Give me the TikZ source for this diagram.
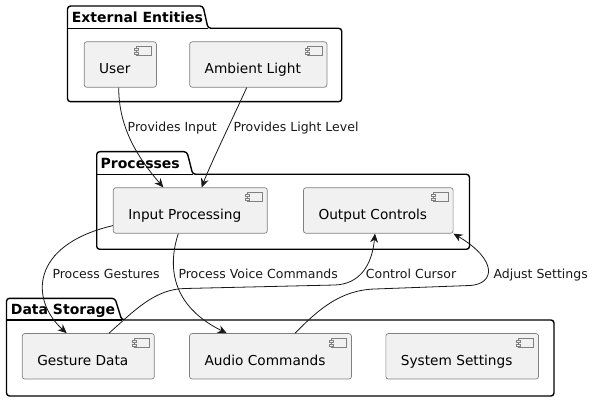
\documentclass[tikz,border=0pt]{standalone}
\usepackage{fontspec}
\setmainfont{DejaVu Sans}
\usetikzlibrary{arrows.meta,calc}
\definecolor{compfill}{HTML}{F1F1F1}
\definecolor{compline}{HTML}{808080}
\definecolor{ink}{HTML}{181818}
\newcommand{\compname}[1]{#1\hspace*{11pt}}
\tikzset{
  comp/.style={draw=compline,line width=0.7pt,fill=compfill,rounded corners=2.5pt,
    font=\fontsize{13.7}{16}\selectfont,inner xsep=15pt,inner ysep=0pt,
    text height=32pt,text depth=13.5pt,
    path picture={
      \draw[compline,line width=0.6pt,sharp corners]
        ([xshift=-20pt,yshift=-5pt]path picture bounding box.north east) rectangle ++(15pt,-9pt);
      \draw[compline,line width=0.6pt,sharp corners,fill=compfill]
        ([xshift=-22pt,yshift=-7pt]path picture bounding box.north east) rectangle ++(4pt,-2pt);
      \draw[compline,line width=0.6pt,sharp corners,fill=compfill]
        ([xshift=-22pt,yshift=-11pt]path picture bounding box.north east) rectangle ++(4pt,-2pt);
    }},
  pkg/.style={draw=black,line width=1.4pt,rounded corners=3pt},
  pkgtitle/.style={font=\bfseries\fontsize{14}{16}\selectfont,inner sep=0pt,anchor=base west},
  lbl/.style={font=\fontsize{12.5}{14}\selectfont,inner sep=0pt,anchor=base west,text=ink},
  link/.style={draw=ink,line width=0.8pt,-{Stealth[length=9pt,width=8pt]}}
}
\begin{document}
\begin{tikzpicture}[x=1pt,y=-1pt]
  \useasboundingbox (0,0) rectangle (595,401);

  % Package: External Entities
  \draw[pkg] (67.5,101.7) -- (67.5,6) -- (203,6) -- (208,28.3) -- (341.7,28.3) -- (341.7,101.7) -- cycle;
  \draw[pkg] (67.5,28.3) -- (208,28.3);
  \node[pkgtitle] (exttitle) at (71.7,22.8) {External Entities};

  % Package: Processes
  \draw[pkg] (96.7,249.3) -- (96.7,151.7) -- (187,151.7) -- (192.7,174.3) -- (469.5,174.3) -- (469.5,249.3) -- cycle;
  \draw[pkg] (96.7,174.3) -- (192.7,174.3);
  \node[pkgtitle] (proctitle) at (100.5,168.8) {Processes};

  % Package: Data Storage
  \draw[pkg] (6.5,396) -- (6.5,298.3) -- (115,298.3) -- (121.7,320) -- (554,320) -- (554,396) -- cycle;
  \draw[pkg] (6.5,320) -- (121.7,320);
  \node[pkgtitle] (datatitle) at (10.7,314.5) {Data Storage};

  % Components
  \node[comp] (user) at (120.3,64.5) {\compname{User}};
  \node[comp] (light) at (258.3,64.5) {\compname{Ambient Light}};
  \node[comp] (inproc) at (190.3,210.5) {\compname{Input Processing}};
  \node[comp] (outctl) at (378.3,210.5) {\compname{Output Controls}};
  \node[comp] (gesture) at (88.3,356.3) {\compname{Gesture Data}};
  \node[comp] (audio) at (270.5,356.3) {\compname{Audio Commands}};
  \node[comp] (settings) at (462.2,356.3) {\compname{System Settings}};

  % Links
  \draw[link] ($(user.south)+(-1.6,0)$) .. controls (118.7,130) and (140,160) .. ($(inproc.north)+(-27,0)$);
  \node[lbl] (lprovin) at (127.5,131.7) {Provides Input};
  \draw[link] ($(light.south)+(-11.6,0)$) .. controls (238,107) and (210,165) .. ($(inproc.north)+(11.4,0)$);
  \node[lbl] (lprovlight) at (233.3,131.7) {Provides Light Level};

  \draw[link] ($(inproc.south west)+(0,-8)$) .. controls (30,245) and (30,300) .. ($(gesture.north)+(-21.6,0)$);
  \node[lbl] (lgest) at (52.3,278.3) {Process Gestures};
  \draw[link] ($(inproc.south)+(-12,0)$) .. controls (168,265) and (170,305) .. ($(audio.north)+(-43.8,0)$);
  \node[lbl] (lvoice) at (178.3,278.3) {Process Voice Commands};

  \draw[link] ($(gesture.north)+(20.7,0)$) .. controls (135,310) and (155,289) .. (185,288.5)
    -- (335,285) .. controls (360,284) and (372,265) .. ($(outctl.south)+(-3.3,0)$);
  \node[lbl] (lcursor) at (365.7,278.3) {Control Cursor};
  \draw[link] ($(audio.north)+(24.5,0)$) .. controls (318,310) and (340,290) .. (375,289)
    -- (470,285.5) .. controls (495,284) and (498,260) .. (outctl.south east);
  \node[lbl] (ladjust) at (493.3,278.3) {Adjust Settings};
\end{tikzpicture}
\end{document}
